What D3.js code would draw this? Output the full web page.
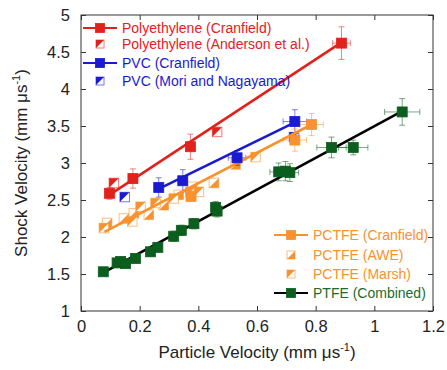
<!DOCTYPE html>
<html>
<head>
<meta charset="utf-8">
<script src="https://cdnjs.cloudflare.com/ajax/libs/d3/7.8.5/d3.min.js"></script>
<style>
  body { margin: 0; background: #fff; }
  text { font-family: Arial, "Liberation Sans", sans-serif; }
</style>
</head>
<body>
<div id="chart"></div>
<script>
// data: [particle velocity, shock velocity, x error, y error]
const peCranfield = [[0.097, 2.59, 0, 0.08], [0.177, 2.79, 0, 0.13], [0.373, 3.22, 0, 0.17], [0.888, 4.62, 0.03, 0.22]]
const peAnderson = [[0.112, 2.73], [0.464, 3.42]]
const pvcCranfield = [[0.265, 2.67, 0.01, 0.13], [0.347, 2.76, 0.01, 0.15], [0.532, 3.07, 0.03, 0.1], [0.729, 3.56, 0.04, 0.16]]
const pvcMori = [[0.149, 2.54], [0.726, 3.35]]
const pctfeCranfield = [[0.375, 2.55, 0, 0.07], [0.729, 3.31, 0.04, 0.15], [0.786, 3.52, 0.04, 0.15]]
const pctfeAWE = [[0.089, 2.19], [0.146, 2.25], [0.18, 2.32], [0.231, 2.30], [0.282, 2.43], [0.333, 2.57], [0.379, 2.68], [0.453, 2.73], [0.527, 2.98]]
const pctfeMarsh = [[0.078, 2.12], [0.175, 2.21], [0.203, 2.41], [0.254, 2.46], [0.316, 2.52], [0.373, 2.61], [0.402, 2.61], [0.595, 3.08]]
const ptfe = [[0.076, 1.53, 0, 0.05], [0.123, 1.65, 0, 0.05], [0.135, 1.67, 0, 0.05], [0.152, 1.64, 0, 0.05],
  [0.186, 1.71, 0, 0.05], [0.237, 1.80, 0, 0.06], [0.262, 1.86, 0, 0.06], [0.316, 2.01, 0, 0.07],
  [0.342, 2.09, 0, 0.07], [0.385, 2.18, 0, 0.07], [0.459, 2.40, 0, 0.08], [0.464, 2.35, 0, 0.08],
  [0.674, 2.88, 0.03, 0.12], [0.697, 2.89, 0.03, 0.13], [0.712, 2.87, 0.03, 0.12],
  [0.854, 3.21, 0.05, 0.14], [0.928, 3.21, 0.05, 0.1], [1.095, 3.69, 0.06, 0.18]]

// fitted lines (end points)
const peFit = [[0.097, 2.57], [0.888, 4.63]]
const pvcFit = [[0.265, 2.65], [0.729, 3.55]]
const pctfeFit = [[0.08, 2.07], [0.786, 3.52]]
const ptfeFit = [[0.076, 1.52], [1.095, 3.70]]

const xTicks = [0, 0.2, 0.4, 0.6, 0.8, 1, 1.2]
const yTicks = [1, 1.5, 2, 2.5, 3, 3.5, 4, 4.5, 5]

const red = '#e3211c', blue = '#1a1ad0', orange = '#f7922e', green = '#0b5e1e'

const width = 447, height = 370
const mLeft = 81, mRight = 433, mTop = 15, mBottom = 311
const svg = d3.select('#chart').append('svg').attr('width', width).attr('height', height)

const x = d3.scaleLinear().domain([0, 1.2]).range([mLeft, mRight])
const y = d3.scaleLinear().domain([1, 5]).range([mBottom, mTop])

// frame
svg.append('rect').attr('x', mLeft).attr('y', mTop).attr('width', mRight - mLeft).attr('height', mBottom - mTop)
  .attr('fill', 'none').attr('stroke', '#333').attr('stroke-width', 1)

// inward ticks on all sides
svg.append('g').attr('class', 'xAxis').attr('transform', 'translate(0,' + mBottom + ')')
  .call(d3.axisBottom(x).tickValues(xTicks).tickSize(-5).tickPadding(9).tickFormat(d3.format('')))
svg.append('g').attr('transform', 'translate(0,' + mTop + ')')
  .call(d3.axisTop(x).tickValues(xTicks).tickSize(-5).tickFormat(''))
svg.append('g').attr('class', 'yAxis').attr('transform', 'translate(' + mLeft + ',0)')
  .call(d3.axisLeft(y).tickValues(yTicks).tickSize(-5).tickPadding(11).tickFormat(d3.format('')))
svg.append('g').attr('transform', 'translate(' + mRight + ',0)')
  .call(d3.axisRight(y).tickValues(yTicks).tickSize(-5).tickFormat(''))
svg.selectAll('.domain').remove()
svg.selectAll('.tick line').attr('stroke', '#333')
svg.selectAll('.tick text').attr('font-size', 16.5).attr('fill', '#222')
  .attr('font-family', 'Arial, "Liberation Sans", sans-serif')

// axis titles
const xt = svg.append('text').attr('x', (mLeft + mRight) / 2).attr('y', 358).attr('text-anchor', 'middle')
  .attr('font-size', 17).attr('fill', '#222')
xt.append('tspan').text('Particle Velocity (mm μs')
xt.append('tspan').text('-1').attr('font-size', 11).attr('dy', -7)
xt.append('tspan').text(')').attr('dy', 7)

const yt = svg.append('text').attr('transform', 'translate(27,' + (mTop + mBottom) / 2 + ') rotate(-90)')
  .attr('text-anchor', 'middle').attr('font-size', 17).attr('fill', '#222')
yt.append('tspan').text('Shock Velocity (mm μs')
yt.append('tspan').text('-1').attr('font-size', 11).attr('dy', -7)
yt.append('tspan').text(')').attr('dy', 7)

const plot = svg.append('g')

function fitLine (pts, color) {
  plot.append('line')
    .attr('x1', x(pts[0][0])).attr('y1', y(pts[0][1]))
    .attr('x2', x(pts[1][0])).attr('y2', y(pts[1][1]))
    .attr('stroke', color).attr('stroke-width', 2.6)
}

function errorBars (data, color) {
  const g = plot.append('g').attr('stroke', color).attr('stroke-opacity', 0.55).attr('stroke-width', 1)
  data.forEach(d => {
    const cx = x(d[0]), cy = y(d[1])
    if (d[3]) {
      g.append('line').attr('x1', cx).attr('x2', cx).attr('y1', y(d[1] - d[3])).attr('y2', y(d[1] + d[3]))
      g.append('line').attr('x1', cx - 3).attr('x2', cx + 3).attr('y1', y(d[1] - d[3])).attr('y2', y(d[1] - d[3]))
      g.append('line').attr('x1', cx - 3).attr('x2', cx + 3).attr('y1', y(d[1] + d[3])).attr('y2', y(d[1] + d[3]))
    }
    if (d[2]) {
      g.append('line').attr('y1', cy).attr('y2', cy).attr('x1', x(d[0] - d[2])).attr('x2', x(d[0] + d[2]))
      g.append('line').attr('y1', cy - 3).attr('y2', cy + 3).attr('x1', x(d[0] - d[2])).attr('x2', x(d[0] - d[2]))
      g.append('line').attr('y1', cy - 3).attr('y2', cy + 3).attr('x1', x(d[0] + d[2])).attr('x2', x(d[0] + d[2]))
    }
  })
}

function filledSquare (g, cx, cy, s, color) {
  g.append('rect').attr('x', cx - s / 2).attr('y', cy - s / 2).attr('width', s).attr('height', s)
    .attr('fill', color).attr('stroke', color).attr('stroke-width', 0.8)
}

// kind 'ul' = upper-left triangle filled, 'lr' = lower-right triangle filled
function halfSquare (g, cx, cy, s, color, kind) {
  const h = s / 2
  g.append('rect').attr('x', cx - h).attr('y', cy - h).attr('width', s).attr('height', s)
    .attr('fill', '#fff').attr('stroke', color).attr('stroke-opacity', 0.6).attr('stroke-width', 1)
  const pts = kind === 'ul'
    ? [[cx - h, cy - h], [cx + h, cy - h], [cx - h, cy + h]]
    : [[cx + h, cy - h], [cx + h, cy + h], [cx - h, cy + h]]
  g.append('path').attr('d', 'M' + pts.join('L') + 'Z').attr('fill', color)
}

function halfSeries (data, color, kind) {
  const g = plot.append('g')
  data.forEach(d => halfSquare(g, x(d[0]), y(d[1]), 9.5, color, kind))
}
function filledSeries (data, color) {
  const g = plot.append('g')
  data.forEach(d => filledSquare(g, x(d[0]), y(d[1]), 10, color))
}

// PCTFE literature points
halfSeries(pctfeAWE, orange, 'lr')
halfSeries(pctfeMarsh, orange, 'ul')
halfSeries(peAnderson, red, 'ul')
halfSeries(pvcMori, blue, 'ul')

errorBars(ptfe, green)
errorBars(peCranfield, red)
errorBars(pvcCranfield, blue)
errorBars(pctfeCranfield, orange)

fitLine(pctfeFit, orange)
fitLine(ptfeFit, '#000')
fitLine(peFit, red)
fitLine(pvcFit, blue)

filledSeries(ptfe, green)
filledSeries(pctfeCranfield, orange)
filledSeries(peCranfield, red)
filledSeries(pvcCranfield, blue)

// legends
function legendRow (g, lx, ly, label, color, textColor, type, kind, fs) {
  if (type === 'line') {
    g.append('line').attr('x1', lx).attr('x2', lx + 34).attr('y1', ly).attr('y2', ly)
      .attr('stroke', color).attr('stroke-width', 2.2)
    filledSquare(g, lx + 17, ly, 9, color === '#000' ? green : color)
  } else {
    halfSquare(g, lx + 17, ly, 8, color, kind)
  }
  g.append('text').attr('x', lx + 39).attr('y', ly + fs * 0.36).attr('font-size', fs)
    .attr('fill', textColor).text(label)
}

const lg1 = svg.append('g')
legendRow(lg1, 83, 28, 'Polyethylene (Cranfield)', red, red, 'line', null, 14)
legendRow(lg1, 83, 44, 'Polyethylene (Anderson et al.)', red, red, 'half', 'ul', 14)
legendRow(lg1, 83, 63, 'PVC (Cranfield)', blue, blue, 'line', null, 14)
legendRow(lg1, 83, 81, 'PVC (Mori and Nagayama)', blue, blue, 'half', 'ul', 14)

const lg2 = svg.append('g')
legendRow(lg2, 274, 235, 'PCTFE (Cranfield)', orange, orange, 'line', null, 14)
legendRow(lg2, 274, 255, 'PCTFE (AWE)', orange, orange, 'half', 'lr', 14)
legendRow(lg2, 274, 274, 'PCTFE (Marsh)', orange, orange, 'half', 'ul', 14)
legendRow(lg2, 274, 293, 'PTFE (Combined)', '#000', '#1d6b2c', 'line', null, 14)
</script>
</body>
</html>
